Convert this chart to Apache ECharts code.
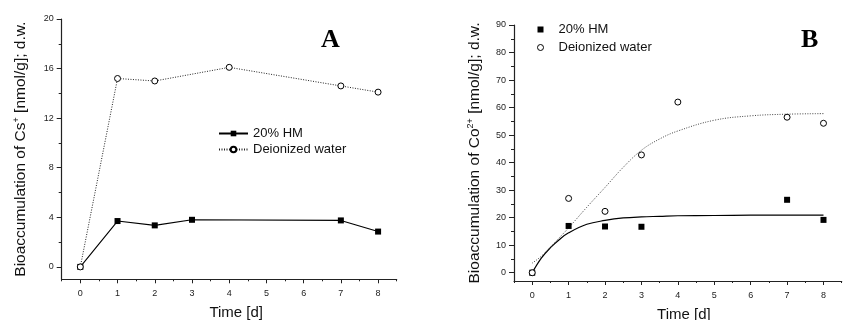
<!DOCTYPE html>
<html><head><meta charset="utf-8">
<script src="https://cdn.jsdelivr.net/npm/echarts@6/dist/echarts.min.js"></script>
<style>html,body{margin:0;padding:0;background:#fff}#c{width:843px;height:320px}</style>
</head><body><div id="c"></div>
<script>
// ---- data ----
const xTickValues = [0, 1, 2, 3, 4, 5, 6, 7, 8];
const xMinorValues = [-0.5, 0.5, 1.5, 2.5, 3.5, 4.5, 5.5, 6.5, 7.5, 8.5];
const yTicksA = [0, 4, 8, 12, 16, 20];
const yMinorA = [2, 6, 10, 14, 18];
const yTicksB = [0, 10, 20, 30, 40, 50, 60, 70, 80, 90];
const yMinorB = [5, 15, 25, 35, 45, 55, 65, 75, 85];

const seriesNames = ['20% HM', 'Deionized water'];

// Panel A (Cs+)
const hmA_time = [0, 1, 2, 3, 7, 8];
const hmA_vals = [0, 3.7, 3.35, 3.8, 3.75, 2.85];
const diA_time = [0, 1, 2, 4, 7, 8];
const diA_vals = [0, 15.2, 15.0, 16.1, 14.6, 14.1];

// Panel B (Co2+)
const hmB_time = [0, 1, 2, 3, 7, 8];
const hmB_vals = [0, 17.0, 16.8, 16.7, 26.5, 19.2];
const diB_time = [0, 1, 2, 3, 4, 7, 8];
const diB_vals = [0, 27.0, 22.3, 42.8, 62.0, 56.5, 54.3];

// Fitted curves in panel B
const fit_time = [0, 0.25, 0.5, 0.75, 1, 1.5, 2, 2.5, 3, 3.5, 4, 5, 6, 7, 8];
const fitHM_vals = [0, 5.3, 9.1, 12.1, 14.5, 17.6, 19.0, 19.9, 20.3, 20.5, 20.7, 20.8, 20.9, 20.9, 20.9];
const fitDI_vals = [3.5, 6.0, 9.3, 12.8, 16.3, 23.8, 31.0, 38.3, 44.5, 48.6, 51.5, 55.4, 57.0, 57.6, 57.8];

const zip = (xs, ys) => xs.map((x, i) => [x, ys[i]]);

// ---- styling ----
const FONT = 'Liberation Sans, Arial, sans-serif';
const axisColor = '#222';
const tickLabel = { fontSize: 9, color: '#222', fontFamily: FONT };

function xAxes(grid, nameOffset) {
  return [
    { gridIndex: grid, type: 'value', min: -0.5, max: 8.5, position: 'bottom',
      axisLine: { onZero: false, lineStyle: { color: axisColor, width: 1.2 } },
      axisTick: { customValues: xTickValues, length: 4, lineStyle: { color: axisColor } },
      axisLabel: Object.assign({ customValues: xTickValues, margin: 10 }, tickLabel),
      splitLine: { show: false },
      name: 'Time [d]', nameLocation: 'middle', nameGap: 26,
      nameTextStyle: { fontSize: 15, color: '#111', fontFamily: FONT, padding: [0, 0, 0, nameOffset] } },
    { gridIndex: grid, type: 'value', min: -0.5, max: 8.5, position: 'bottom',
      axisLine: { show: false, onZero: false },
      axisTick: { customValues: xMinorValues, length: 2, lineStyle: { color: axisColor } },
      axisLabel: { show: false }, splitLine: { show: false } }
  ];
}
function yAxes(grid, min, max, ticks, minor, label, gap) {
  return [
    { gridIndex: grid, type: 'value', min: min, max: max, position: 'left',
      axisLine: { onZero: false, lineStyle: { color: axisColor, width: 1.2 } },
      axisTick: { customValues: ticks, length: 5, lineStyle: { color: axisColor } },
      axisLabel: Object.assign({ customValues: ticks, margin: 8 }, tickLabel),
      splitLine: { show: false },
      name: label, nameLocation: 'middle', nameGap: gap, nameRotate: 90,
      nameTextStyle: { fontSize: 15.5, color: '#111', fontFamily: FONT,
        rich: { sup: { fontSize: 9, fontFamily: FONT, color: '#111', padding: [0, 0, 9, 0] } } } },
    { gridIndex: grid, type: 'value', min: min, max: max, position: 'left',
      axisLine: { show: false, onZero: false },
      axisTick: { customValues: minor, length: 3, lineStyle: { color: axisColor } },
      axisLabel: { show: false }, splitLine: { show: false } }
  ];
}

const openCircle = { color: '#fff', borderColor: '#000', borderWidth: 1, opacity: 1 };
const filled = { color: '#000', borderColor: '#000', borderWidth: 0, opacity: 1 };

const option = {
  animation: false,
  backgroundColor: '#fff',
  grid: [
    { left: 61.7, top: 19, width: 335, height: 260.3, containLabel: false, outerBoundsMode: 'none' },
    { left: 514, top: 25, width: 327.7, height: 256, containLabel: false, outerBoundsMode: 'none' }
  ],
  xAxis: xAxes(0, 14).concat(xAxes(1, 12)),
  yAxis: yAxes(0, -1, 20, yTicksA, yMinorA, 'Bioaccumulation of Cs{sup|+} [nmol/g]; d.w.', 32)
    .concat(yAxes(1, -3, 90, yTicksB, yMinorB, 'Bioaccumulation of Co{sup|2+} [nmol/g]; d.w.', 30)),
  legend: [
    { data: [seriesNames[0], seriesNames[1]].map(n => ({ name: n })),
      orient: 'vertical', left: 213, top: 122, itemWidth: 29, itemHeight: 7, itemGap: 3,
      textStyle: { fontSize: 13, color: '#111', fontFamily: FONT },
      selectedMode: false },
    { data: [{ name: 'B ' + seriesNames[0], icon: 'rect', itemStyle: { color: '#000', borderWidth: 0 } },
             { name: 'B ' + seriesNames[1], icon: 'circle', itemStyle: { color: '#fff', borderColor: '#000', borderWidth: 1 } }],
      formatter: n => n.slice(2),
      orient: 'vertical', left: 532, top: 18, itemWidth: 6, itemHeight: 6, itemGap: 5,
      textStyle: { fontSize: 13, color: '#111', fontFamily: FONT, padding: [0, 0, 0, 10] },
      selectedMode: false }
  ],
  graphic: [
    { type: 'text', left: 321, top: 27, style: { text: 'A', font: 'bold 26px "Liberation Serif", serif', fill: '#000' } },
    { type: 'text', left: 801, top: 27, style: { text: 'B', font: 'bold 26px "Liberation Serif", serif', fill: '#000' } }
  ],
  series: [
    { name: seriesNames[0], type: 'line', xAxisIndex: 0, yAxisIndex: 0,
      data: zip(hmA_time, hmA_vals), symbol: 'rect', symbolSize: 6,
      lineStyle: { color: '#000', width: 1.1 }, itemStyle: filled, z: 3 },
    { name: seriesNames[1], type: 'line', xAxisIndex: 0, yAxisIndex: 0,
      data: zip(diA_time, diA_vals), symbol: 'circle', symbolSize: 6,
      lineStyle: { color: '#222', width: 1, type: [1, 1.5] }, itemStyle: openCircle, z: 4 },
    { name: 'fitHM', type: 'line', xAxisIndex: 2, yAxisIndex: 2,
      data: zip(fit_time, fitHM_vals), smooth: 0.4, showSymbol: false, symbol: 'none',
      lineStyle: { color: '#000', width: 1.2 }, z: 2 },
    { name: 'fitDI', type: 'line', xAxisIndex: 2, yAxisIndex: 2,
      data: zip(fit_time, fitDI_vals), smooth: 0.4, showSymbol: false, symbol: 'none',
      lineStyle: { color: '#444', width: 1, type: [1, 1.5] }, z: 2 },
    { name: 'B ' + seriesNames[0], type: 'scatter', xAxisIndex: 2, yAxisIndex: 2,
      data: zip(hmB_time, hmB_vals), symbol: 'rect', symbolSize: 6, itemStyle: filled, z: 3 },
    { name: 'B ' + seriesNames[1], type: 'scatter', xAxisIndex: 2, yAxisIndex: 2,
      data: zip(diB_time, diB_vals), symbol: 'circle', symbolSize: 6, itemStyle: openCircle, z: 4 }
  ]
};
const chart = echarts.init(document.getElementById('c'), null, { renderer: 'canvas' });
chart.setOption(option);
</script></body></html>
